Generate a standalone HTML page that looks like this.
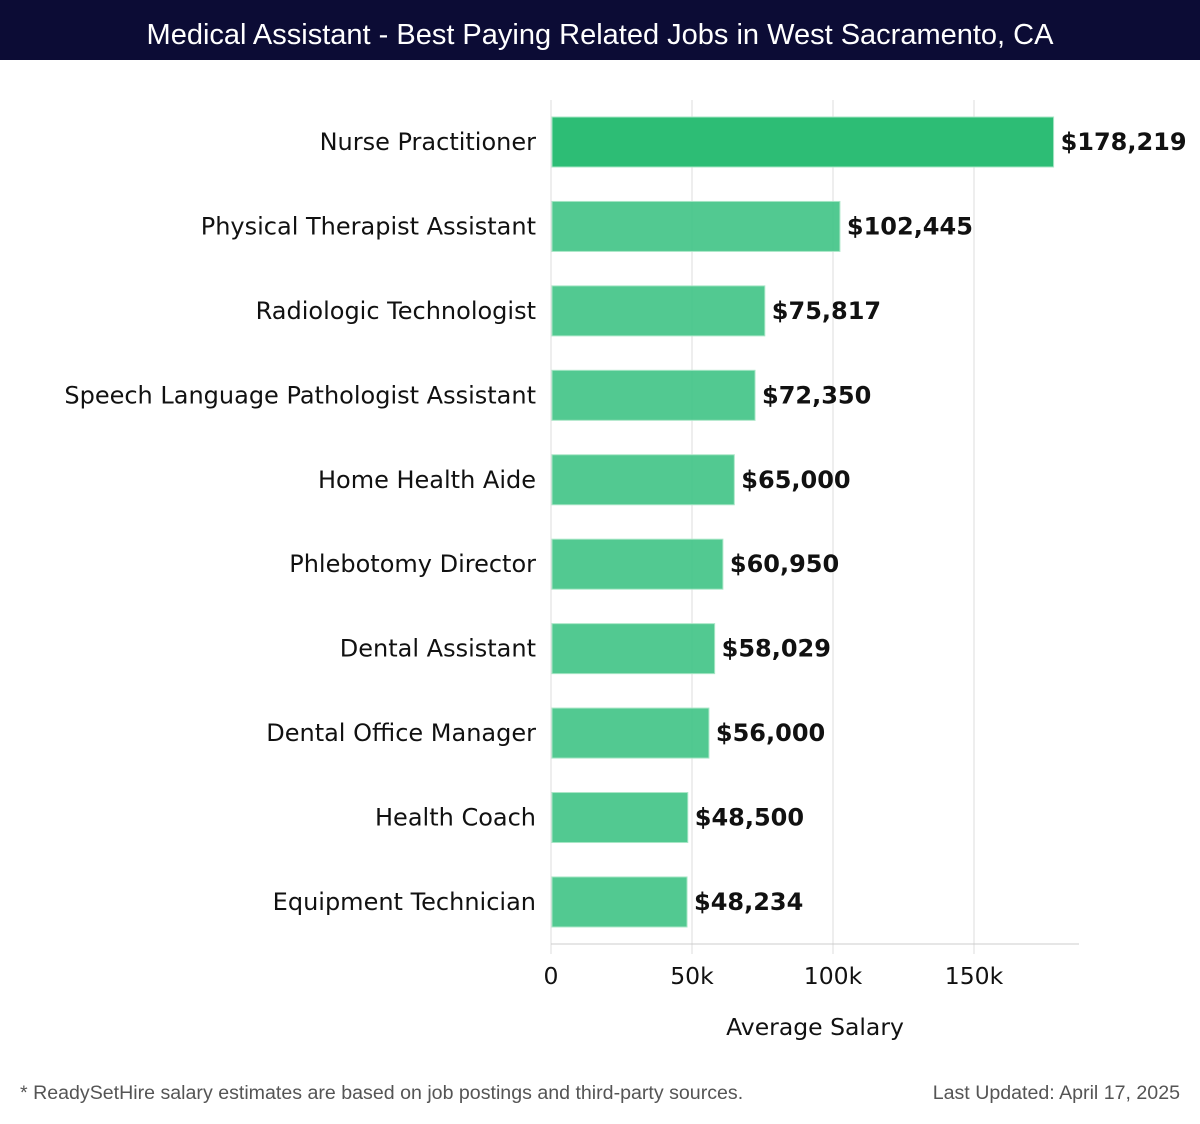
<!DOCTYPE html>
<html><head><meta charset="utf-8"><style>
body{margin:0;width:1200px;height:1120px;background:#fff;overflow:hidden;font-family:"DejaVu Sans","Liberation Sans",sans-serif}
</style></head><body>
<svg id="chart" width="1200" height="1120" xmlns="http://www.w3.org/2000/svg">
<rect x="0" y="0" width="1200" height="60" fill="#0c0c35"/>
<text x="600" y="44" text-anchor="middle" fill="#fff" font-family="Liberation Sans, sans-serif" font-size="29">Medical Assistant - Best Paying Related Jobs in West Sacramento, CA</text>
<g id="grid"></g><g id="bars"></g><g id="axis"></g>
<text x="815" y="1035" text-anchor="middle" font-size="23.5" fill="#111">Average Salary</text>
<text x="20" y="1099" font-family="Liberation Sans, sans-serif" font-size="19.6" fill="#555">* ReadySetHire salary estimates are based on job postings and third-party sources.</text>
<text x="1180" y="1099" text-anchor="end" font-family="Liberation Sans, sans-serif" font-size="19.6" fill="#555">Last Updated: April 17, 2025</text>
</svg>
<script>
const categories=["Nurse Practitioner","Physical Therapist Assistant","Radiologic Technologist","Speech Language Pathologist Assistant","Home Health Aide","Phlebotomy Director","Dental Assistant","Dental Office Manager","Health Coach","Equipment Technician"];
const values=[178219,102445,75817,72350,65000,60950,58029,56000,48500,48234];
const valueLabels=["$178,219","$102,445","$75,817","$72,350","$65,000","$60,950","$58,029","$56,000","$48,500","$48,234"];
const ticks=[0,50000,100000,150000];
const tickLabels=["0","50k","100k","150k"];
const NS="http://www.w3.org/2000/svg";
const x=v=>551+v*141/50000;
const yc=i=>142+i*84.44;
function mk(t,a,p){const e=document.createElementNS(NS,t);for(const k in a)e.setAttribute(k,a[k]);p.appendChild(e);return e;}
const grid=document.getElementById('grid'),bars=document.getElementById('bars'),axis=document.getElementById('axis');
ticks.forEach((t,i)=>{
  const l=mk('line',{x1:x(t),x2:x(t),y1:100,y2:954,stroke:'#ddd','stroke-width':1},grid);
  
  
  const tx=mk('text',{x:x(t),y:984,'text-anchor':'middle','font-size':23.5,fill:'#111'},axis);
  tx.textContent=tickLabels[i];
  
  
});
const ax=mk('line',{x1:551,x2:1079,y1:944,y2:944,stroke:'#ccc','stroke-width':1},axis);


categories.forEach((c,i)=>{
  const r=mk('rect',{x:552,y:yc(i)-25,width:x(values[i])-552,height:50,fill:i===0?'#2dbd75':'#3fc385','fill-opacity':i===0?1:0.9,stroke:'#a8e6c6','stroke-width':1},bars);
  
  
  const lb=mk('text',{x:536,y:yc(i)+8,'text-anchor':'end','font-size':24,fill:'#111'},bars);
  lb.textContent=c;
  
  
  const vl=mk('text',{x:x(values[i])+7,y:yc(i)+8,'font-size':24,'font-weight':'bold',fill:'#111'},bars);
  vl.textContent=valueLabels[i];
  
  
});
</script>
</body></html>
